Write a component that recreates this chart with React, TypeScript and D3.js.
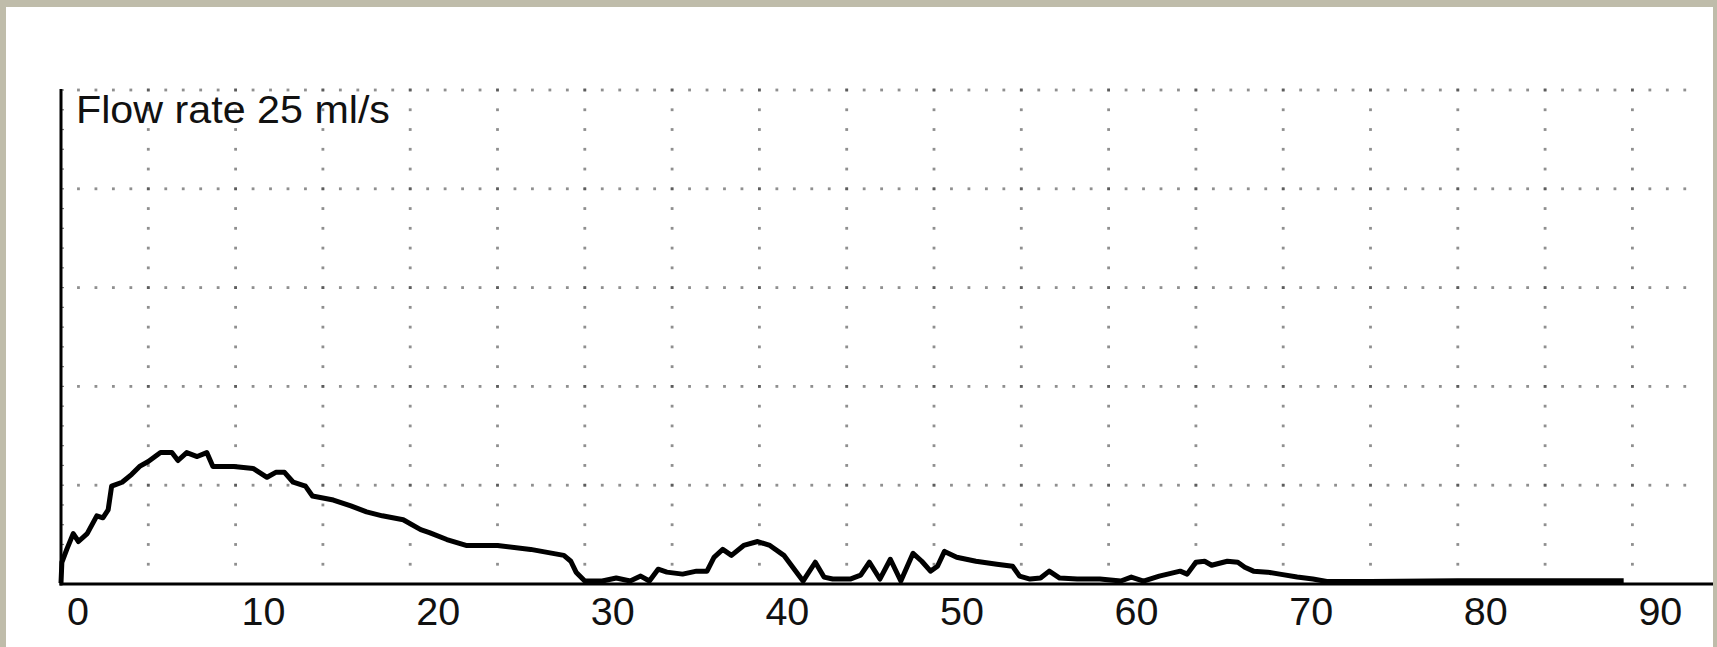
import React from "react";
import * as d3 from "d3";

const W = 1717;
const H = 647;

const flowTime = [0, 0.05, 0.33, 0.7, 1.0, 1.5, 2.05, 2.4, 2.7, 2.9, 3.5, 4.05, 4.5, 5.0, 5.7, 6.35, 6.7, 7.2, 7.8, 8.35, 8.7, 9.9, 11.0, 11.8, 12.3, 12.8, 13.3, 14.0, 14.4, 15.6, 16.6, 17.5, 18.4, 19.6, 20.6, 21.1, 22.1, 23.2, 25.0, 26.9, 28.8, 29.2, 29.5, 30.0, 31.0, 31.8, 32.6, 33.2, 33.7, 34.2, 34.7, 35.6, 36.4, 37.0, 37.4, 37.9, 38.4, 39.1, 39.9, 40.6, 41.4, 42.2, 42.5, 43.2, 43.7, 44.2, 45.2, 45.8, 46.3, 46.9, 47.5, 48.1, 48.8, 49.3, 49.8, 50.2, 50.6, 51.3, 52.4, 53.6, 54.5, 54.9, 55.5, 56.1, 56.6, 57.2, 58.2, 59.5, 60.7, 61.3, 62.0, 62.9, 64.1, 64.5, 65.0, 65.5, 65.9, 66.8, 67.4, 67.8, 68.3, 69.1, 69.8, 70.8, 71.7, 72.5, 75, 80, 85, 89.5];
const flowRate = [0, 1.05, 1.7, 2.5, 2.1, 2.5, 3.4, 3.3, 3.7, 4.9, 5.1, 5.5, 5.9, 6.15, 6.6, 6.6, 6.2, 6.6, 6.4, 6.6, 5.9, 5.9, 5.8, 5.35, 5.6, 5.6, 5.1, 4.9, 4.4, 4.2, 3.9, 3.6, 3.4, 3.2, 2.7, 2.55, 2.2, 1.9, 1.9, 1.7, 1.4, 1.1, 0.55, 0.1, 0.1, 0.25, 0.1, 0.35, 0.1, 0.7, 0.55, 0.45, 0.6, 0.6, 1.3, 1.7, 1.4, 1.9, 2.1, 1.9, 1.4, 0.45, 0.1, 1.05, 0.3, 0.2, 0.2, 0.4, 1.05, 0.2, 1.2, 0.1, 1.5, 1.1, 0.6, 0.85, 1.6, 1.3, 1.1, 0.95, 0.85, 0.35, 0.2, 0.25, 0.6, 0.25, 0.2, 0.2, 0.1, 0.3, 0.1, 0.35, 0.6, 0.45, 1.05, 1.1, 0.9, 1.1, 1.05, 0.8, 0.6, 0.55, 0.45, 0.3, 0.2, 0.08, 0.08, 0.12, 0.12, 0.12];

const xTickLabels = [0, 10, 20, 30, 40, 50, 60, 70, 80, 90];
const yMax = 25;
const titleText = "Flow rate 25 ml/s";

export default function App() {
  const x0 = 61;
  const xScale = d3.scaleLinear().domain([0, 10]).range([x0, x0 + 174.6]);
  const yScale = d3.scaleLinear().domain([0, yMax]).range([584, 90]);

  const data = flowTime.map((t, i) => [t, flowRate[i]] as [number, number]);
  const line = d3
    .line<[number, number]>()
    .x((d) => xScale(d[0]))
    .y((d) => yScale(d[1]) - 1);

  const vGrid = d3.range(5, 91, 5);
  const hGrid = d3.range(5, 26, 5);
  const secDots = d3.range(1, 94, 1);
  const valDots = d3.range(1, 26, 1);

  const dots: JSX.Element[] = [];
  vGrid.forEach((t) => {
    valDots.forEach((v) => {
      dots.push(
        <rect key={`v${t}-${v}`} x={xScale(t) - 1.4} y={yScale(v) - 1.4} width={2.8} height={2.8} fill="#333" opacity={0.55} />
      );
    });
  });
  hGrid.forEach((v) => {
    secDots.forEach((t) => {
      dots.push(
        <rect key={`h${v}-${t}`} x={xScale(t) - 1.4} y={yScale(v) - 1.4} width={2.8} height={2.8} fill="#333" opacity={0.55} />
      );
    });
  });

  const font = "'Liberation Sans', Arial, Helvetica, sans-serif";

  return (
    <svg width={W} height={H} style={{ position: "absolute", left: 0, top: 0 }}>
      <rect x={0} y={0} width={W} height={H} fill="#bfbcaa" />
      <rect x={6} y={7} width={1707} height={H - 7} fill="#ffffff" />
      {dots}
      {valDots.map((v) => (
        <line key={`yt${v}`} x1={x0} x2={x0 + 3} y1={yScale(v)} y2={yScale(v)} stroke="#777" strokeWidth={1.2} />
      ))}
      <path d={line(data) || ""} fill="none" stroke="#000" strokeWidth={5} strokeLinejoin="round" />
      <line x1={x0} x2={x0} y1={89} y2={585.5} stroke="#000" strokeWidth={3} />
      <line x1={x0 - 1.5} x2={1713} y1={584} y2={584} stroke="#000" strokeWidth={3} />
      {xTickLabels.map((t) => (
        <text key={`xl${t}`} x={xScale(t) + 6} y={625} fontFamily={font} fontSize={39.5} fill="#111">
          {t}
        </text>
      ))}
      <text x={76} y={123} fontFamily={font} fontSize={38} fill="#111" textLength={314} lengthAdjust="spacingAndGlyphs">
        {titleText}
      </text>
    </svg>
  );
}
